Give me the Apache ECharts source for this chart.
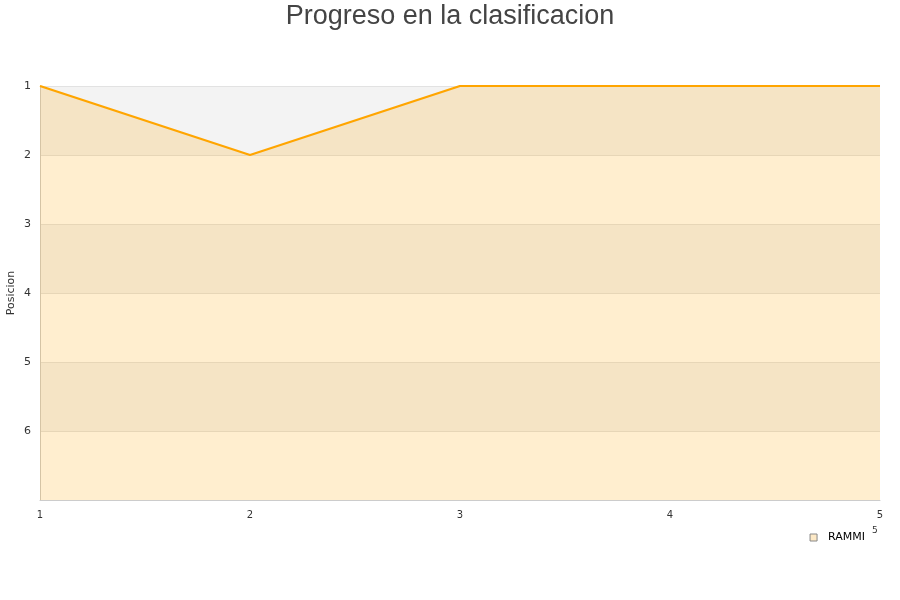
<!DOCTYPE html>
<html><head><meta charset="utf-8">
<script src="https://cdn.jsdelivr.net/npm/echarts@6/dist/echarts.min.js"></script>
<style>html,body{margin:0;padding:0;background:#fff}#c{width:900px;height:600px}</style>
</head><body><div id="c"></div>
<script>
var jornadas = [1, 2, 3, 4, 5];
var posiciones = [1, 2, 1, 1, 1];
var seriesName = 'RAMMI';
var yTicks = [1, 2, 3, 4, 5, 6];

var chart = echarts.init(document.getElementById('c'));
chart.setOption({
  animation: false,
  backgroundColor: '#fff',
  title: {
    text: 'Progreso en la clasificacion', left: 'center', top: -2,
    textStyle: {fontFamily: 'Liberation Sans', fontSize: 27, fontWeight: 'normal', color: '#444'}
  },
  legend: {
    data: [{name: seriesName, icon: 'rect', itemStyle: {color: '#fde9c6', borderColor: '#888', borderWidth: 1}}],
    right: 30, top: 527, itemWidth: 7, itemHeight: 7,
    textStyle: {fontFamily: 'DejaVu Sans', fontSize: 11, color: '#000', padding: [0, 0, 0, 6]}
  },
  grid: {left: 40, right: 20, top: 86, bottom: 100, containLabel: false, outerBoundsMode: 'none'},
  xAxis: {
    type: 'value', min: 1, max: 5, interval: 1,
    axisLine: {show: true, lineStyle: {color: '#ccc'}},
    axisTick: {show: false},
    axisLabel: {fontFamily: 'DejaVu Sans', fontSize: 10, color: '#333', margin: 10},
    splitLine: {show: false}
  },
  yAxis: {
    type: 'value', min: 1, max: 7, interval: 1, inverse: true,
    name: 'Posicion', nameLocation: 'middle', nameGap: 23, nameMoveOverlap: false,
    nameTextStyle: {fontFamily: 'DejaVu Sans', fontSize: 11, color: '#333'},
    axisLine: {show: true, lineStyle: {color: '#ccc'}},
    axisTick: {show: false},
    axisLabel: {fontFamily: 'DejaVu Sans', fontSize: 11, color: '#333', margin: 9,
      formatter: function (v) { return yTicks.indexOf(v) >= 0 ? String(v) : ''; }},
    splitLine: {show: true, lineStyle: {color: '#e2e2e2'}},
    splitArea: {show: true, areaStyle: {color: ['#f3f3f3', '#ffffff']}}
  },
  series: [{
    name: seriesName, type: 'line',
    data: jornadas.map(function (j, i) { return [j, posiciones[i]]; }),
    showSymbol: false, symbol: 'none',
    lineStyle: {color: '#ffa500', width: 2.2},
    itemStyle: {color: '#fde9c6', borderColor: '#888'},
    areaStyle: {color: 'rgba(255,165,0,0.19)', opacity: 1, origin: 'end'}
  }],
  graphic: [{type: 'text', left: 872, top: 526,
    style: {text: '5', fontSize: 9, fontFamily: 'DejaVu Sans', fill: '#333'}}]
});
</script></body></html>
